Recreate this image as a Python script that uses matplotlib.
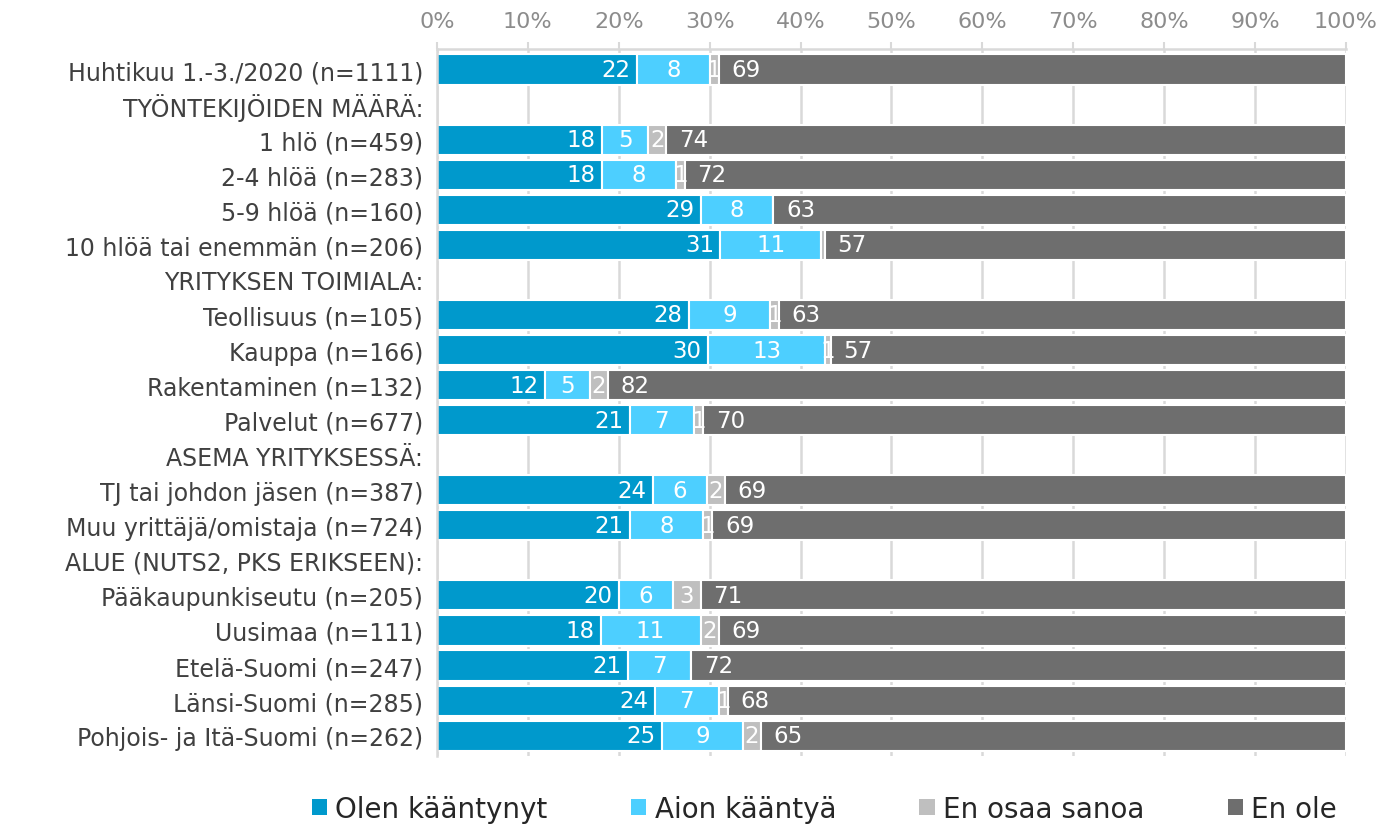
import numpy as np
import matplotlib
matplotlib.use("Agg")
from matplotlib import pyplot as plt
from matplotlib.patches import Patch

# categories, top to bottom (header rows have no bars)
labels = ["Huhtikuu 1.-3./2020 (n=1111)", "TYÖNTEKIJÖIDEN MÄÄRÄ:", "1 hlö (n=459)", "2-4 hlöä (n=283)",
          "5-9 hlöä (n=160)", "10 hlöä tai enemmän (n=206)", "YRITYKSEN TOIMIALA:", "Teollisuus (n=105)",
          "Kauppa (n=166)", "Rakentaminen (n=132)", "Palvelut (n=677)", "ASEMA YRITYKSESSÄ:",
          "TJ tai johdon jäsen (n=387)", "Muu yrittäjä/omistaja (n=724)", "ALUE (NUTS2, PKS ERIKSEEN):",
          "Pääkaupunkiseutu (n=205)", "Uusimaa (n=111)", "Etelä-Suomi (n=247)", "Länsi-Suomi (n=285)",
          "Pohjois- ja Itä-Suomi (n=262)"]
is_header = [False, True, False, False, False, False, True, False, False, False, False, True,
             False, False, True, False, False, False, False, False]

series = ["Olen kääntynyt", "Aion kääntyä", "En osaa sanoa", "En ole"]
olen = [22, 0, 18, 18, 29, 31, 0, 28, 30, 12, 21, 0, 24, 21, 0, 20, 18, 21, 24, 25]
aion = [8, 0, 5, 8, 8, 11, 0, 9, 13, 5, 7, 0, 6, 8, 0, 6, 11, 7, 7, 9]
eos = [1, 0, 2, 1, 0, 0.4, 0, 1, 0.6, 2, 1, 0, 2, 1, 0, 3, 2, 0, 1, 2]
en_ole = [69, 0, 74, 72, 63, 57, 0, 63, 57, 82, 70, 0, 69, 69, 0, 71, 69, 72, 68, 65]

colors = ["#0099CC", "#4DCFFF", "#BFBFBF", "#6E6E6E"]

data = np.array([olen, aion, eos, en_ole], dtype=float)
tot = data.sum(axis=0)
tot[tot == 0] = 1
shares = data / tot * 100

fig = plt.figure(figsize=(13.88, 8.37), dpi=100)
ax = fig.add_axes([0.3148, 0.0956, 0.6549, 0.8444])

y = np.arange(len(labels))
left = np.zeros(len(labels))
for k in range(4):
    ax.barh(y, shares[k], left=left, height=0.86, color=colors[k], edgecolor="white",
            linewidth=1.5, zorder=2)
    for i in range(len(labels)):
        v = data[k][i]
        if is_header[i] or v < 0.5:
            continue
        w = shares[k][i]
        txt = str(int(round(v)))
        if k == 0:
            ax.text(left[i] + w - 0.7, y[i], txt, ha="right", va="center", color="white", fontsize=16.5, zorder=3)
        elif k == 3:
            ax.text(left[i] + 1.4, y[i], txt, ha="left", va="center", color="white", fontsize=16.5, zorder=3)
        else:
            ax.text(left[i] + w / 2, y[i], txt, ha="center", va="center", color="white", fontsize=16.5, zorder=3)
    left += shares[k]

ax.set_xlim(0, 100)
ax.set_ylim(19.58, -0.58)
ax.set_yticks(y)
ax.set_yticklabels(labels, fontsize=17, color="#404040")
ax.set_xticks(np.arange(0, 101, 10))
ax.set_xticklabels([f"{t}%" for t in range(0, 101, 10)], fontsize=16, color="#8C8C8C")
ax.xaxis.tick_top()
ax.tick_params(axis="y", length=0, pad=10)
ax.tick_params(axis="x", length=5, width=1.5, color="#D9D9D9", pad=8)
ax.grid(axis="x", color="#D9D9D9", linewidth=1.8, zorder=0)
ax.set_axisbelow(True)
for s in ["right", "bottom"]:
    ax.spines[s].set_visible(False)
for s in ["left", "top"]:
    ax.spines[s].set_color("#D9D9D9")
    ax.spines[s].set_linewidth(1.8)

handles = [Patch(facecolor=c, edgecolor="none") for c in colors]
fig.legend(handles, series, loc="lower center", bbox_to_anchor=(0.594, -0.014), ncol=4, frameon=False,
           fontsize=20, handlelength=0.55, handleheight=0.55, handletextpad=0.3, columnspacing=3.0,
           labelcolor="#262626")

fig.savefig("out.png", dpi=100)
